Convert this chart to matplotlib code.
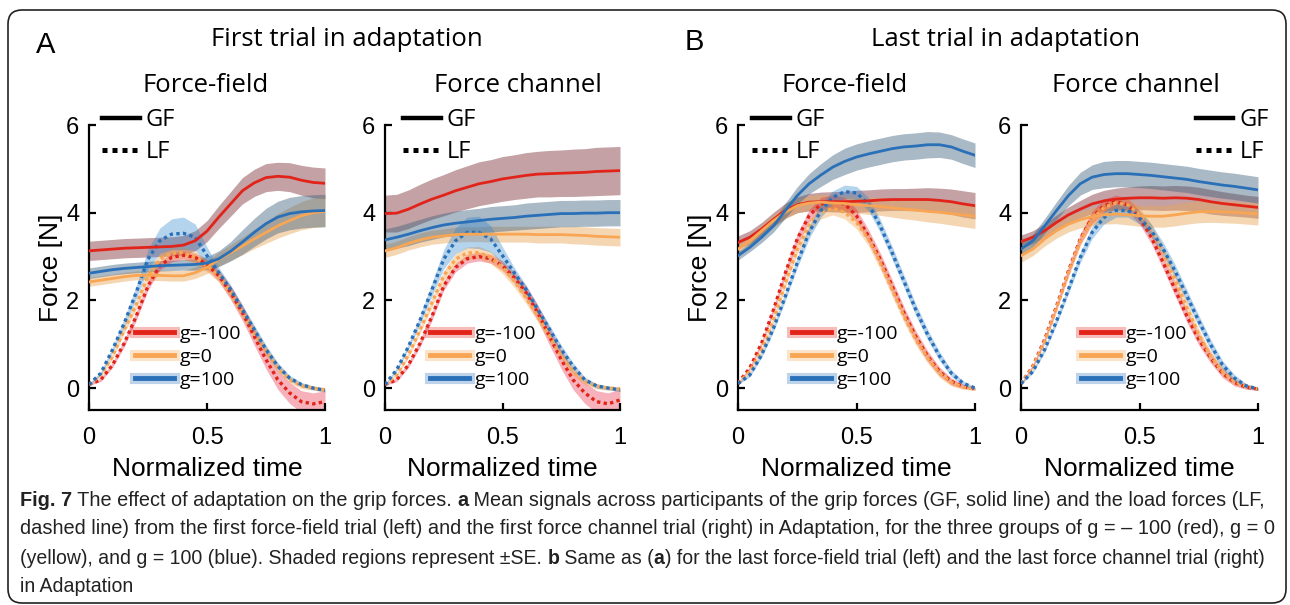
import numpy as np
import matplotlib
matplotlib.use("Agg")
import matplotlib.pyplot as plt
from matplotlib.lines import Line2D
from matplotlib.patches import FancyBboxPatch
from matplotlib.transforms import IdentityTransform
import matplotlib.patheffects as pe

t = np.linspace(0, 1, 21)

# ---- A: first trial, force-field ----
a_ff_gf_red = [3.13, 3.15, 3.17, 3.19, 3.20, 3.21, 3.22, 3.23, 3.26, 3.36, 3.58, 3.90, 4.20, 4.50, 4.68, 4.80, 4.83, 4.81, 4.74, 4.69, 4.67]
a_ff_gf_yel = [2.42, 2.46, 2.50, 2.54, 2.57, 2.57, 2.57, 2.56, 2.56, 2.63, 2.75, 2.94, 3.09, 3.24, 3.40, 3.55, 3.70, 3.82, 3.93, 4.00, 4.03]
a_ff_gf_blu = [2.62, 2.66, 2.70, 2.73, 2.75, 2.77, 2.79, 2.80, 2.81, 2.82, 2.85, 2.95, 3.12, 3.33, 3.55, 3.75, 3.90, 3.98, 4.02, 4.04, 4.05]
a_ff_lf_red = [0.08, 0.19, 0.53, 1.03, 1.64, 2.33, 2.79, 2.98, 3.03, 2.98, 2.82, 2.56, 2.18, 1.72, 1.18, 0.65, 0.19, -0.11, -0.31, -0.36, -0.31]
a_ff_lf_yel = [0.08, 0.30, 0.73, 1.34, 1.90, 2.56, 2.94, 3.08, 3.09, 2.98, 2.79, 2.56, 2.18, 1.72, 1.26, 0.84, 0.46, 0.19, 0.05, 0.00, -0.04]
a_ff_lf_blu = [0.08, 0.34, 0.88, 1.49, 2.18, 2.94, 3.36, 3.51, 3.53, 3.44, 3.02, 2.63, 2.25, 1.79, 1.34, 0.88, 0.50, 0.23, 0.08, 0.00, -0.05]

# ---- A: first trial, force channel ----
a_fc_gf_red = [3.98, 3.99, 4.08, 4.20, 4.31, 4.40, 4.50, 4.58, 4.66, 4.71, 4.77, 4.81, 4.85, 4.88, 4.89, 4.90, 4.91, 4.92, 4.94, 4.95, 4.96]
a_fc_gf_yel = [3.13, 3.20, 3.30, 3.38, 3.44, 3.47, 3.50, 3.51, 3.51, 3.51, 3.51, 3.51, 3.51, 3.50, 3.50, 3.50, 3.49, 3.48, 3.46, 3.45, 3.44]
a_fc_gf_blu = [3.38, 3.44, 3.51, 3.59, 3.66, 3.72, 3.76, 3.79, 3.82, 3.85, 3.87, 3.89, 3.92, 3.94, 3.96, 3.98, 3.98, 3.99, 3.99, 4.00, 4.00]
a_fc_lf_red = [0.08, 0.19, 0.53, 1.03, 1.64, 2.33, 2.75, 2.95, 3.00, 2.95, 2.79, 2.52, 2.18, 1.72, 1.18, 0.65, 0.19, -0.11, -0.31, -0.36, -0.27]
a_fc_lf_yel = [0.08, 0.30, 0.76, 1.34, 1.95, 2.56, 2.94, 3.08, 3.09, 2.98, 2.75, 2.44, 2.06, 1.64, 1.18, 0.76, 0.38, 0.15, 0.04, 0.00, -0.02]
a_fc_lf_blu = [0.08, 0.42, 0.95, 1.56, 2.25, 2.94, 3.36, 3.55, 3.55, 3.40, 3.02, 2.63, 2.25, 1.79, 1.34, 0.88, 0.50, 0.19, 0.05, 0.00, -0.04]

# ---- B: last trial, force-field ----
b_ff_gf_red = [3.32, 3.44, 3.63, 3.85, 4.05, 4.18, 4.24, 4.25, 4.25, 4.25, 4.26, 4.27, 4.29, 4.30, 4.30, 4.30, 4.30, 4.28, 4.25, 4.20, 4.16]
b_ff_gf_yel = [3.17, 3.36, 3.59, 3.82, 4.01, 4.16, 4.22, 4.24, 4.22, 4.21, 4.18, 4.16, 4.14, 4.11, 4.08, 4.06, 4.03, 4.01, 3.98, 3.95, 3.92]
b_ff_gf_blu = [3.02, 3.21, 3.44, 3.70, 4.05, 4.39, 4.66, 4.86, 5.04, 5.17, 5.27, 5.34, 5.40, 5.46, 5.50, 5.52, 5.55, 5.55, 5.50, 5.40, 5.31]
b_ff_lf_red = [0.11, 0.46, 1.03, 1.79, 2.63, 3.40, 3.93, 4.20, 4.25, 4.20, 3.93, 3.47, 2.94, 2.33, 1.72, 1.18, 0.73, 0.38, 0.15, 0.04, -0.02]
b_ff_lf_yel = [0.10, 0.38, 0.88, 1.56, 2.40, 3.17, 3.70, 4.01, 4.10, 4.01, 3.78, 3.40, 2.86, 2.25, 1.64, 1.11, 0.69, 0.34, 0.13, 0.02, -0.02]
b_ff_lf_blu = [0.10, 0.30, 0.76, 1.37, 2.10, 2.86, 3.55, 4.05, 4.35, 4.48, 4.45, 4.20, 3.70, 3.09, 2.44, 1.79, 1.22, 0.73, 0.34, 0.11, 0.00]

# ---- B: last trial, force channel ----
b_fc_gf_red = [3.34, 3.44, 3.59, 3.78, 3.95, 4.08, 4.20, 4.27, 4.31, 4.33, 4.34, 4.34, 4.33, 4.34, 4.33, 4.30, 4.25, 4.21, 4.18, 4.15, 4.12]
b_fc_gf_yel = [3.02, 3.17, 3.40, 3.59, 3.74, 3.84, 3.91, 3.95, 3.97, 3.95, 3.93, 3.92, 3.92, 3.95, 3.99, 4.02, 4.03, 4.02, 4.01, 3.99, 3.97]
b_fc_gf_blu = [3.17, 3.36, 3.70, 4.05, 4.39, 4.66, 4.81, 4.87, 4.89, 4.89, 4.87, 4.85, 4.82, 4.79, 4.76, 4.71, 4.67, 4.63, 4.60, 4.56, 4.52]
b_fc_lf_red = [0.10, 0.50, 1.11, 1.87, 2.67, 3.40, 3.89, 4.16, 4.25, 4.18, 3.89, 3.44, 2.86, 2.25, 1.64, 1.11, 0.69, 0.34, 0.13, 0.02, -0.02]
b_fc_lf_yel = [0.10, 0.48, 1.07, 1.83, 2.63, 3.36, 3.85, 4.12, 4.22, 4.18, 3.97, 3.59, 3.09, 2.48, 1.83, 1.22, 0.73, 0.38, 0.15, 0.04, -0.02]
b_fc_lf_blu = [0.10, 0.38, 0.88, 1.53, 2.25, 2.98, 3.55, 3.89, 4.05, 4.05, 3.89, 3.59, 3.17, 2.67, 2.10, 1.53, 0.99, 0.53, 0.23, 0.05, -0.02]

# ---- standard errors ----
se_a_ff_gf_red = [0.22, 0.22, 0.22, 0.22, 0.22, 0.22, 0.22, 0.22, 0.22, 0.23, 0.24, 0.26, 0.28, 0.30, 0.31, 0.32, 0.32, 0.33, 0.34, 0.35, 0.35]
se_a_ff_gf_yel = [0.10, 0.10, 0.10, 0.10, 0.10, 0.11, 0.12, 0.12, 0.12, 0.13, 0.14, 0.16, 0.18, 0.20, 0.22, 0.25, 0.28, 0.30, 0.32, 0.34, 0.35]
se_a_ff_gf_blu = [0.12, 0.12, 0.12, 0.12, 0.12, 0.12, 0.12, 0.12, 0.12, 0.13, 0.15, 0.18, 0.22, 0.28, 0.32, 0.35, 0.36, 0.37, 0.37, 0.37, 0.37]
se_a_fc_gf_red = [0.42, 0.43, 0.44, 0.45, 0.46, 0.47, 0.48, 0.49, 0.50, 0.50, 0.51, 0.51, 0.52, 0.52, 0.53, 0.53, 0.54, 0.54, 0.55, 0.55, 0.55]
se_a_fc_gf_yel = [0.15, 0.15, 0.15, 0.16, 0.16, 0.16, 0.17, 0.17, 0.17, 0.18, 0.18, 0.18, 0.18, 0.19, 0.19, 0.19, 0.20, 0.20, 0.20, 0.20, 0.20]
se_a_fc_gf_blu = [0.25, 0.25, 0.26, 0.26, 0.27, 0.27, 0.28, 0.28, 0.28, 0.29, 0.29, 0.29, 0.30, 0.30, 0.30, 0.30, 0.30, 0.30, 0.30, 0.30, 0.30]
se_a_lf_red = [0.02, 0.04, 0.06, 0.08, 0.10, 0.10, 0.10, 0.10, 0.10, 0.10, 0.11, 0.13, 0.16, 0.18, 0.20, 0.21, 0.22, 0.24, 0.25, 0.25, 0.25]
se_a_lf_yel = [0.02, 0.04, 0.06, 0.08, 0.10, 0.12, 0.13, 0.14, 0.14, 0.14, 0.14, 0.14, 0.13, 0.13, 0.12, 0.11, 0.09, 0.07, 0.06, 0.05, 0.05]
se_a_lf_blu = [0.02, 0.04, 0.06, 0.10, 0.15, 0.22, 0.29, 0.35, 0.37, 0.30, 0.20, 0.12, 0.10, 0.10, 0.10, 0.10, 0.08, 0.06, 0.05, 0.04, 0.04]
se_b_ff_gf_red = [0.15, 0.15, 0.15, 0.16, 0.17, 0.18, 0.20, 0.22, 0.23, 0.24, 0.25, 0.25, 0.25, 0.25, 0.25, 0.26, 0.27, 0.28, 0.29, 0.30, 0.30]
se_b_ff_gf_yel = [0.12, 0.12, 0.13, 0.14, 0.15, 0.16, 0.17, 0.18, 0.18, 0.18, 0.19, 0.20, 0.20, 0.21, 0.22, 0.23, 0.24, 0.25, 0.26, 0.27, 0.28]
se_b_ff_gf_blu = [0.10, 0.10, 0.12, 0.14, 0.17, 0.20, 0.23, 0.26, 0.28, 0.30, 0.30, 0.30, 0.30, 0.30, 0.30, 0.30, 0.30, 0.29, 0.28, 0.28, 0.28]
se_b_fc_gf_red = [0.15, 0.15, 0.16, 0.17, 0.18, 0.20, 0.22, 0.24, 0.25, 0.26, 0.27, 0.28, 0.28, 0.28, 0.28, 0.28, 0.28, 0.27, 0.26, 0.25, 0.25]
se_b_fc_gf_yel = [0.15, 0.15, 0.16, 0.17, 0.18, 0.19, 0.20, 0.21, 0.22, 0.23, 0.24, 0.25, 0.25, 0.25, 0.25, 0.25, 0.25, 0.25, 0.25, 0.25, 0.25]
se_b_fc_gf_blu = [0.15, 0.15, 0.17, 0.20, 0.23, 0.26, 0.28, 0.30, 0.30, 0.30, 0.30, 0.30, 0.30, 0.30, 0.30, 0.30, 0.30, 0.30, 0.30, 0.30, 0.30]
se_b_lf = [0.02, 0.04, 0.06, 0.08, 0.10, 0.12, 0.14, 0.15, 0.15, 0.15, 0.15, 0.15, 0.15, 0.15, 0.14, 0.13, 0.12, 0.10, 0.08, 0.05, 0.03]

group_labels = ["g=-100", "g=0", "g=100"]
line_colors = ["#e2231a", "#f8a654", "#2a70b8"]
gf_band_colors = ["#7b2f37", "#e9a658", "#406480"]
lf_band_colors = ["#e8203c", "#f29b37", "#2a82cd"]

panels = [
    dict(gf=[a_ff_gf_red, a_ff_gf_yel, a_ff_gf_blu], gse=[se_a_ff_gf_red, se_a_ff_gf_yel, se_a_ff_gf_blu],
         lf=[a_ff_lf_red, a_ff_lf_yel, a_ff_lf_blu], lse=[se_a_lf_red, se_a_lf_yel, se_a_lf_blu],
         px=(89, 325), title="Force-field", tx=206, ylab=True, gleg=("upper left", 0.055), cleg=0.195),
    dict(gf=[a_fc_gf_red, a_fc_gf_yel, a_fc_gf_blu], gse=[se_a_fc_gf_red, se_a_fc_gf_yel, se_a_fc_gf_blu],
         lf=[a_fc_lf_red, a_fc_lf_yel, a_fc_lf_blu], lse=[se_a_lf_red, se_a_lf_yel, se_a_lf_blu],
         px=(385, 620), title="Force channel", tx=518, ylab=False, gleg=("upper left", 0.077), cleg=0.19),
    dict(gf=[b_ff_gf_red, b_ff_gf_yel, b_ff_gf_blu], gse=[se_b_ff_gf_red, se_b_ff_gf_yel, se_b_ff_gf_blu],
         lf=[b_ff_lf_red, b_ff_lf_yel, b_ff_lf_blu], lse=[se_b_lf, se_b_lf, se_b_lf],
         px=(738, 975), title="Force-field", tx=845, ylab=True, gleg=("upper left", 0.06), cleg=0.228),
    dict(gf=[b_fc_gf_red, b_fc_gf_yel, b_fc_gf_blu], gse=[se_b_fc_gf_red, se_b_fc_gf_yel, se_b_fc_gf_blu],
         lf=[b_fc_lf_red, b_fc_lf_yel, b_fc_lf_blu], lse=[se_b_lf, se_b_lf, se_b_lf],
         px=(1021, 1258), title="Force channel", tx=1136, ylab=False, gleg=("upper right", 1.045), cleg=0.253),
]

W, H = 1290, 605
fig = plt.figure(figsize=(W / 100, H / 100), dpi=100)

sans = "Liberation Sans"
soft = "Open Sans"

for p in panels:
    x0, x1 = p["px"]
    ax = fig.add_axes([x0 / W, (H - 410) / H, (x1 - x0) / W, 285 / H])
    for i in range(3):
        m = np.array(p["gf"][i]); s = np.array(p["gse"][i])
        ax.fill_between(t, m - s, m + s, color=gf_band_colors[i], alpha=0.45, lw=0, zorder=1)
    for i in range(3):
        m = np.array(p["lf"][i]); s = np.array(p["lse"][i])
        ax.fill_between(t, m - s, m + s, color=lf_band_colors[i], alpha=0.35, lw=0, zorder=1)
    for i in range(3):
        ax.plot(t, p["lf"][i], color=line_colors[i], lw=2.4, ls=(0, (1, 1)), zorder=3)
    for i in range(3):
        ax.plot(t, p["gf"][i], color=line_colors[i], lw=2.0, zorder=4)

    ax.set_xlim(0, 1)
    ax.set_ylim(-0.5, 6)
    ax.set_xticks([0, 0.5, 1])
    ax.set_xticklabels(["0", "0.5", "1"])
    ax.set_yticks([0, 2, 4, 6])
    for sp in ["top", "right"]:
        ax.spines[sp].set_visible(False)
    for sp in ["left", "bottom"]:
        ax.spines[sp].set_linewidth(1.6)
    ax.tick_params(direction="in", length=5, width=1.6, labelsize=17, pad=7)
    ax.tick_params(axis="x", pad=12)
    for lab in ax.get_xticklabels() + ax.get_yticklabels():
        lab.set_fontfamily(sans)
    ax.set_xlabel("Normalized time", fontsize=19, family=sans, labelpad=6)
    if p["ylab"]:
        ax.set_ylabel("Force [N]", fontsize=19, family=sans, labelpad=2)
    fig.text(p["tx"] / W, 1 - 85 / H, p["title"], ha="center", va="center", fontsize=18.5, family=soft)

    # GF / LF legend
    kh = [Line2D([], [], color="black", lw=3.2),
          Line2D([], [], color="black", lw=3.6, ls=(0, (1, 1)))]
    loc, bx = p["gleg"]
    leg1 = ax.legend(kh, ["GF", "LF"], loc=loc, bbox_to_anchor=(bx, 1.06), frameon=False,
                     borderpad=0, borderaxespad=0, handlelength=1.6, handletextpad=0.25,
                     labelspacing=0.35, prop={"family": soft, "size": 17})
    ax.add_artist(leg1)

    # group legend
    gh = [Line2D([], [], color=c, lw=3.5,
                 path_effects=[pe.Stroke(linewidth=8, foreground=c, alpha=0.3), pe.Normal()])
          for c in line_colors]
    ax.legend(gh, group_labels, loc="lower left", bbox_to_anchor=(p["cleg"], 0.075), frameon=False,
              borderpad=0, borderaxespad=0, handlelength=2.0, handletextpad=0.3,
              labelspacing=0.25, prop={"family": soft, "size": 14})

# panel letters and headers
fig.text(46 / W, 1 - 45 / H, "A", ha="center", va="center", fontsize=21, family=sans)
fig.text(694 / W, 1 - 42 / H, "B", ha="center", va="center", fontsize=21, family=sans)
fig.text(347 / W, 1 - 40 / H, "First trial in adaptation", ha="center", va="center", fontsize=18.5, family=soft)
fig.text(1006 / W, 1 - 40 / H, "Last trial in adaptation", ha="center", va="center", fontsize=18.5, family=soft)

# rounded frame
frame = FancyBboxPatch((8, 2), 1278, 593, boxstyle="round,pad=0,rounding_size=14",
                       transform=IdentityTransform(), fill=False, ec="#222222", lw=1.2)
fig.add_artist(frame)

# caption
bg = fig.add_axes([0, 0, 1, 1], zorder=-5)
bg.axis("off")
cap_font = "Liberation Sans"
cap_lines = [
    [("Fig. 7", True), (" The effect of adaptation on the grip forces. ", False), ("a", True),
     (" Mean signals across participants of the grip forces (GF, solid line) and the load forces (LF,", False)],
    [("dashed line) from the first force-field trial (left) and the first force channel trial (right) in Adaptation, for the three groups of g = \u2013 100 (red), g = 0", False)],
    [("(yellow), and g = 100 (blue). Shaded regions represent \u00b1SE. ", False), ("b", True),
     (" Same as (", False), ("a", True),
     (") for the last force-field trial (left) and the last force channel trial (right)", False)],
    [("in Adaptation", False)],
]
cap_y = [500, 529, 558, 587]
cap_end = [1262, 1280, 1262, None]
cap_texts = []
for yy, parts in zip(cap_y, cap_lines):
    prev = None
    row = []
    for txt, bold in parts:
        kw = dict(fontsize=13, family=cap_font, weight="bold" if bold else "normal",
                  color="#222222", ha="left", va="center")
        if prev is None:
            prev = bg.text(20 / W, 1 - yy / H, txt, transform=bg.transAxes, **kw)
        else:
            prev = bg.annotate(txt, xy=(1, 0.5), xycoords=prev, **kw)
        row.append(prev)
    cap_texts.append(row)

# fit each caption line so it ends where the reference line ends
fig.canvas.draw()
r = fig.canvas.get_renderer()
scale = 1.0
for row, end in zip(cap_texts, cap_end):
    if end is not None:
        x_end = row[-1].get_window_extent(r).x1
        scale = (end - 20) / (x_end - 20)
    for txt in row:
        txt.set_fontsize(13 * scale)

fig.savefig("out.png", dpi=100)
